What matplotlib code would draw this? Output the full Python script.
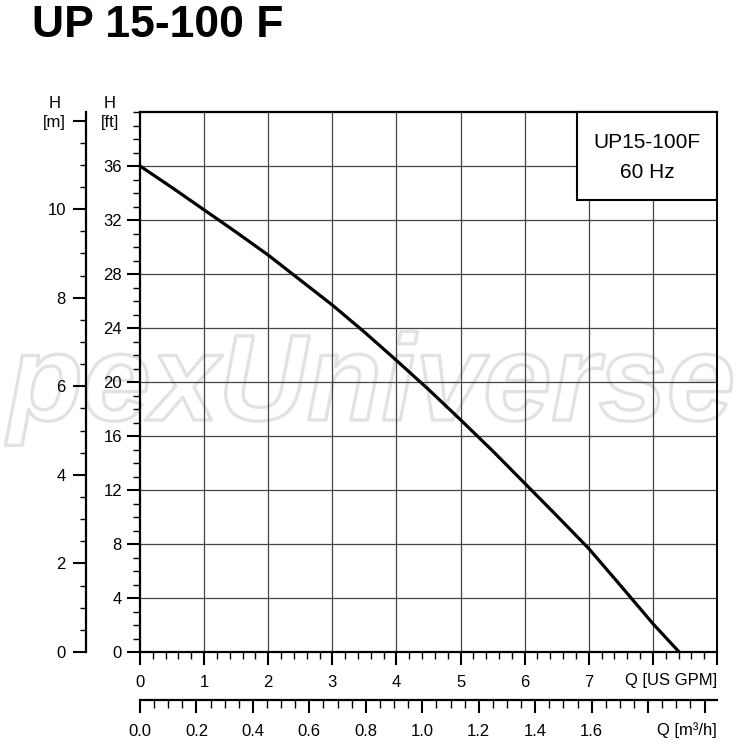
import numpy as np
import matplotlib
matplotlib.use("Agg")
import matplotlib.pyplot as plt
import matplotlib.patheffects as pe
from matplotlib import font_manager
from matplotlib.patches import Rectangle
from matplotlib.ticker import FixedLocator, FixedFormatter
#----------------------------------------------------------------------------------------

plt.rcParams['font.family'] = ['Liberation Sans', 'DejaVu Sans']

# pump curve UP15-100F, 60 Hz
q_gpm = [0, 0.5, 1, 1.5, 2, 2.5, 3, 3.5, 4, 4.5, 5, 5.5, 6, 6.5, 7, 7.5, 8, 8.41]
h_ft  = [36, 34.4, 32.75, 31.1, 29.4, 27.55, 25.7, 23.7, 21.6, 19.45, 17.2, 14.9,
         12.5, 10.1, 7.66, 4.9, 2.1, 0]

ft_ticks   = [0, 4, 8, 12, 16, 20, 24, 28, 32, 36]
m_ticks    = [0, 2, 4, 6, 8, 10, 12]
m_labels   = ['0', '2', '4', '6', '8', '10', '[m]']
gpm_ticks  = [0, 1, 2, 3, 4, 5, 6, 7, 8, 9]
gpm_labels = ['0', '1', '2', '3', '4', '5', '6', '7', '', '']
m3h_ticks  = [0.0, 0.2, 0.4, 0.6, 0.8, 1.0, 1.2, 1.4, 1.6, 1.8, 2.0]
m3h_labels = ['0.0', '0.2', '0.4', '0.6', '0.8', '1.0', '1.2', '1.4', '1.6', '', '']

FT2M = 0.3048
GPM2M3H = 0.22712

W = H = 747
fig = plt.figure(figsize=(W / 100, H / 100), dpi=100)
ax = fig.add_axes([140 / W, (H - 652) / H, 577 / W, 540 / H])
ax.set_facecolor('none')

ax.plot(q_gpm, h_ft, color='black', lw=2.3, solid_capstyle='butt',
        solid_joinstyle='round', zorder=3)

ax.set_xlim(0, 9)
ax.set_ylim(0, 40)

# grid
for q in range(1, 9):
    ax.axvline(q, color='#444444', lw=0.9, zorder=1)
for h in range(4, 40, 4):
    ax.axhline(h, color='#444444', lw=0.9, zorder=1)

for s in ['left', 'bottom', 'top']:
    ax.spines[s].set_linewidth(1.6)
ax.spines['right'].set_linewidth(1.4)

# ft axis
ax.yaxis.set_major_locator(FixedLocator(ft_ticks))
ax.yaxis.set_minor_locator(FixedLocator(np.arange(0, 41, 1)))
ax.tick_params(axis='y', which='major', length=9.5, width=1.5, pad=3.5, labelsize=12)
ax.tick_params(axis='y', which='minor', length=5, width=1.0)

# GPM axis
ax.xaxis.set_major_locator(FixedLocator(gpm_ticks))
ax.xaxis.set_major_formatter(FixedFormatter(gpm_labels))
ax.xaxis.set_minor_locator(FixedLocator(np.arange(0, 9.01, 0.2)))
ax.tick_params(axis='x', which='major', length=9.5, width=1.5, pad=7, labelsize=12)
ax.tick_params(axis='x', which='minor', length=5, width=1.0)

# m axis
may = ax.secondary_yaxis(-54 / 577, functions=(lambda x: x * FT2M, lambda x: x / FT2M))
may.yaxis.set_major_locator(FixedLocator(m_ticks))
may.yaxis.set_major_formatter(FixedFormatter(m_labels))
may.yaxis.set_minor_locator(FixedLocator(np.arange(0, 12.01, 0.5)))
may.tick_params(axis='y', which='major', length=9.5, width=1.5, pad=5, labelsize=12)
may.tick_params(axis='y', which='minor', length=4.5, width=1.0)
may.spines['left'].set_linewidth(1.6)

# m3/h axis
mx = ax.secondary_xaxis(-48 / 540, functions=(lambda x: x * GPM2M3H, lambda x: x / GPM2M3H))
mx.xaxis.set_major_locator(FixedLocator(m3h_ticks))
mx.xaxis.set_major_formatter(FixedFormatter(m3h_labels))
mx.xaxis.set_minor_locator(FixedLocator(np.arange(0, 2.06, 0.05)))
mx.tick_params(axis='x', which='major', length=9.5, width=1.5, pad=8, labelsize=12)
mx.tick_params(axis='x', which='minor', length=5.5, width=1.0)
mx.spines['bottom'].set_linewidth(1.6)

# axis captions
fig.text(717 / W, 1 - 680 / H, 'Q [US GPM]', ha='right', va='center', fontsize=12)
fig.text(717 / W, 1 - 730 / H, 'Q [m³/h]', ha='right', va='center', fontsize=12)
fig.text(55 / W, 1 - 103 / H, 'H', ha='center', va='center', fontsize=12)
fig.text(110 / W, 1 - 103 / H, 'H', ha='center', va='center', fontsize=12)
fig.text(119 / W, 1 - 123 / H, '[ft]', ha='right', va='center', fontsize=12)

# label box
bx0 = (577 - 140) / 577
by0 = (652 - 200) / 540
ax.add_patch(Rectangle((bx0, by0), 1 - bx0, 1 - by0, transform=ax.transAxes,
                       facecolor='white', edgecolor='black', lw=1.5, zorder=5, clip_on=False))
bxc = (bx0 + 1) / 2
ax.text(bxc, (652 - 143) / 540, 'UP15-100F', transform=ax.transAxes,
        ha='center', va='center', fontsize=15, zorder=6)
ax.text(bxc, (652 - 172) / 540, '60 Hz', transform=ax.transAxes,
        ha='center', va='center', fontsize=15, zorder=6)

# title
fig.text(32 / W, 1 - 37 / H, 'UP 15-100 F', ha='left', va='baseline',
         fontsize=32, fontweight='bold')

# watermark, drawn underneath the axes
names = {f.name for f in font_manager.fontManager.ttflist}
wm_font = 'Liberation Sans Narrow' if 'Liberation Sans Narrow' in names else 'Liberation Sans'
wm_size = 104 if wm_font == 'Liberation Sans Narrow' else 88
fig.text(8 / W, 1 - 420 / H, 'pexUniverse', ha='left', va='baseline',
         fontsize=wm_size, fontweight='bold', fontstyle='italic', family=wm_font,
         color=(1, 1, 1, 0), zorder=-1,
         path_effects=[pe.withStroke(linewidth=2.4, foreground='#e2e2e2')])

fig.savefig('out.png', dpi=100)
